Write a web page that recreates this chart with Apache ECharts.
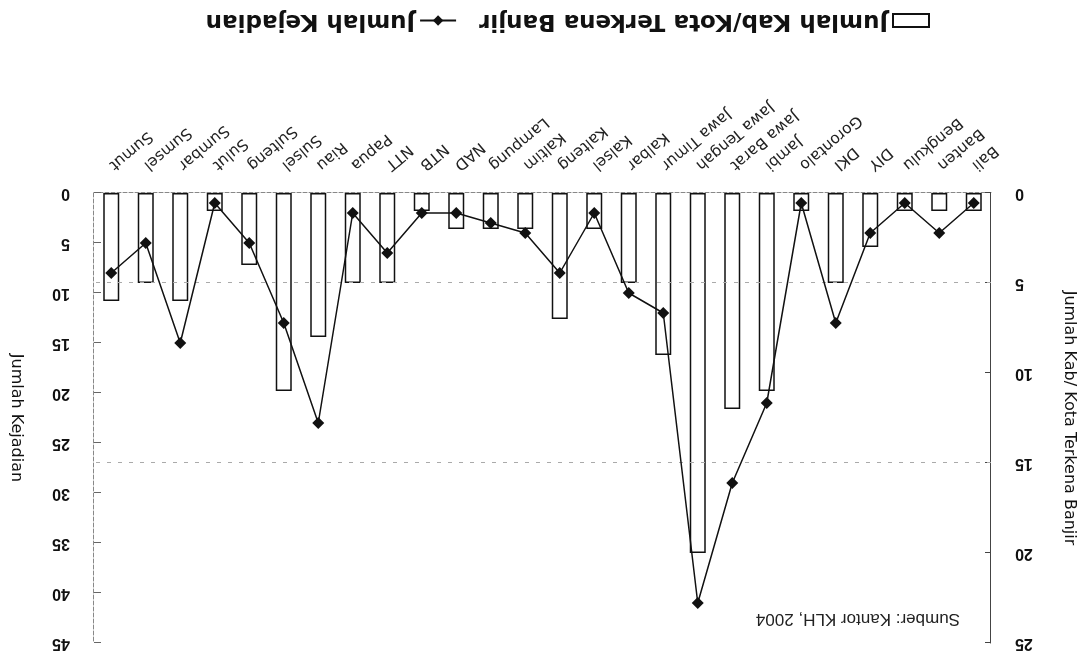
<!DOCTYPE html>
<html>
<head>
<meta charset="utf-8">
<script src="https://cdn.jsdelivr.net/npm/echarts@6/dist/echarts.min.js"></script>
<style>
  html, body { margin: 0; padding: 0; background: #fff; }
  /* the reference is scanned upside down, so the whole chart is turned 180deg */
  #chart { width: 1085px; height: 658px; transform: rotate(180deg); }
</style>
</head>
<body>
<div id="chart"></div>
<script>
const provinsi = ['Bali', 'Banten', 'Bengkulu', 'DIY', 'DKI', 'Gorontalo', 'Jambi', 'Jawa Barat',
  'Jawa Tengah', 'Jawa Timur', 'Kalbar', 'Kalsel', 'Kalteng', 'Kaltim', 'Lampung', 'NAD',
  'NTB', 'NTT', 'Papua', 'Riau', 'Sulsel', 'Sulteng', 'Sulut', 'Sumbar', 'Sumsel', 'Sumut'];
const kabKota = [1, 1, 1, 3, 5, 1, 11, 12, 20, 9, 5, 2, 7, 2, 2, 2, 1, 5, 5, 8, 11, 4, 1, 6, 5, 6];
const kejadian = [1, 4, 1, 4, 13, 1, 21, 29, 41, 12, 10, 2, 8, 4, 3, 2, 2, 6, 2, 23, 13, 5, 1, 15, 5, 8];
const garisBantu = [5, 15];

const chart = echarts.init(document.getElementById('chart'));

const tickFont = { fontFamily: 'Liberation Sans', fontWeight: 'bold', fontSize: 16, color: '#111' };
const nameFont = { fontFamily: 'DejaVu Sans', fontSize: 16, color: '#111' };

chart.setOption({
  backgroundColor: '#fff',
  animation: false,
  grid: { left: 88, right: 89, top: 15, bottom: 193 },
  legend: {
    bottom: 4,
    left: 150,
    itemGap: 22,
    itemWidth: 36,
    itemHeight: 13,
    textStyle: { fontFamily: 'DejaVu Sans', fontWeight: 'bold', fontSize: 23, color: '#111' },
    data: [
      { name: 'Jumlah Kab/Kota Terkena Banjir', icon: 'rect' },
      { name: 'Jumlah Kejadian' }
    ]
  },
  graphic: [{
    type: 'text',
    left: 125,
    top: 31,
    style: { text: 'Sumber: Kantor KLH, 2004', font: '17px "Liberation Sans"', fill: '#222' }
  }],
  xAxis: {
    type: 'category',
    data: provinsi,
    axisLine: { lineStyle: { color: '#888', type: 'dashed', width: 1 } },
    axisTick: { inside: true, length: 4, lineStyle: { color: '#888' } },
    axisLabel: {
      rotate: 40, margin: 26, interval: 0,
      fontFamily: 'DejaVu Sans', fontSize: 15.5, color: '#222'
    }
  },
  yAxis: [{
    type: 'value',
    min: 0, max: 25, interval: 5,
    position: 'left',
    name: 'Jumlah Kab/ Kota Terkena Banjir',
    nameLocation: 'middle',
    nameGap: 70,
    nameRotate: 90,
    nameTextStyle: nameFont,
    axisLine: { show: true, lineStyle: { color: '#444', width: 1 } },
    axisTick: { show: true, inside: true, length: 6, lineStyle: { color: '#444' } },
    axisLabel: Object.assign({ margin: 24 }, tickFont),
    splitLine: { show: false }
  }, {
    type: 'value',
    min: 0, max: 45, interval: 5,
    position: 'right',
    name: 'Jumlah Kejadian',
    nameLocation: 'middle',
    nameGap: 70,
    nameRotate: 90,
    nameTextStyle: nameFont,
    axisLine: { show: true, lineStyle: { color: '#888', width: 1, type: 'dashed' } },
    axisTick: { show: true, inside: true, length: 7, lineStyle: { color: '#666' } },
    axisLabel: Object.assign({ margin: 24 }, tickFont),
    splitLine: { show: false }
  }],
  series: [{
    name: 'Jumlah Kab/Kota Terkena Banjir',
    type: 'bar',
    yAxisIndex: 0,
    barWidth: 16,
    data: kabKota,
    itemStyle: { color: '#fff', borderColor: '#111', borderWidth: 1.5 },
    markLine: {
      silent: true,
      symbol: 'none',
      label: { show: false },
      lineStyle: { color: '#aaa', type: [4, 7], width: 1 },
      data: garisBantu.map(v => ({ yAxis: v }))
    }
  }, {
    name: 'Jumlah Kejadian',
    type: 'line',
    yAxisIndex: 1,
    data: kejadian,
    symbol: 'diamond',
    symbolSize: 12,
    lineStyle: { color: '#111', width: 1.5 },
    itemStyle: { color: '#111' },
    z: 5
  }]
});
</script>
</body>
</html>
